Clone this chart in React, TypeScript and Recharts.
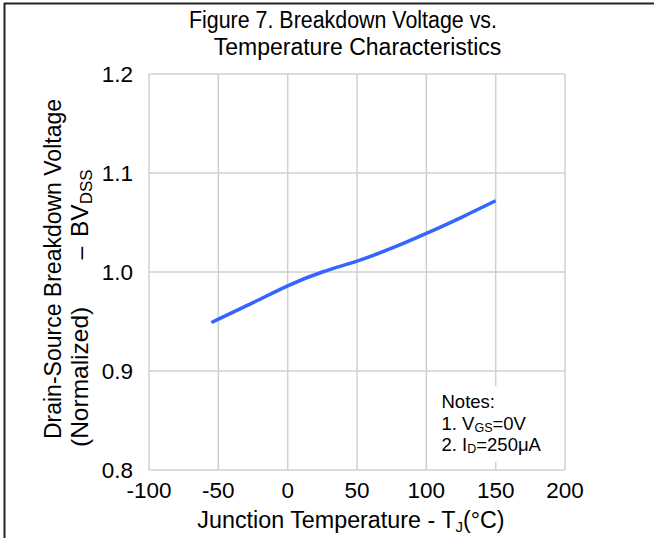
import { LineChart, Line, XAxis, YAxis, CartesianGrid } from 'recharts';

// junction temperature (°C) and normalized BVdss
const temps = [-55, -25, 0, 25, 50, 75, 100, 125, 150];
const bvdss = [0.949, 0.969, 0.986, 1.0, 1.011, 1.024, 1.039, 1.055, 1.072];
const xTicks = [-100, -50, 0, 50, 100, 150, 200];
const yTicks = [0.8, 0.9, 1.0, 1.1, 1.2];

const data = temps.map((t, i) => ({ t, v: bvdss[i] }));

const font = '"Liberation Sans", Arial, sans-serif';

export default function App() {
  return (
    <div style={{ position: 'absolute', left: 0, top: 0, width: 654, height: 538, background: '#fff', fontFamily: font }}>
      <LineChart width={654} height={538} data={data} margin={{ top: 74, right: 89, bottom: 0, left: 0 }}>
        <CartesianGrid stroke="#d0d0d0" strokeWidth={1.5} />
        <XAxis
          dataKey="t"
          type="number"
          domain={[-100, 200]}
          ticks={xTicks}
          height={68}
          axisLine={false}
          tickLine={false}
          tickSize={0}
          tickMargin={12}
          tick={{ fill: '#000', fontSize: 22.5, fontFamily: font }}
          interval={0}
        />
        <YAxis
          type="number"
          domain={[0.8, 1.2]}
          ticks={yTicks}
          width={149}
          axisLine={false}
          tickLine={false}
          tickSize={0}
          tickMargin={16}
          tick={{ fill: '#000', fontSize: 22.5, fontFamily: font }}
          tickFormatter={(v: number) => v.toFixed(1)}
          interval={0}
        />
        <Line
          type="natural"
          dataKey="v"
          stroke="#3366ff"
          strokeWidth={3.5}
          dot={false}
          isAnimationActive={false}
        />
      </LineChart>
      <svg width={654} height={538} style={{ position: 'absolute', left: 0, top: 0, pointerEvents: 'none' }} fontFamily={font}>
        <line x1={4} y1={3.5} x2={654} y2={3.5} stroke="#222" strokeWidth={2} />
        <line x1={4.5} y1={3} x2={4.5} y2={538} stroke="#222" strokeWidth={2} />
        <text x={189} y={28} fontSize={23} textLength={308} lengthAdjust="spacingAndGlyphs">Figure 7. Breakdown Voltage vs.</text>
        <text x={357.5} y={55} textAnchor="middle" fontSize={23}>Temperature Characteristics</text>
        <text x={351} y={528} textAnchor="middle" fontSize={23.3}>
          Junction Temperature - T<tspan fontSize={15} dy={4}>J</tspan><tspan dy={-4}>(°C)</tspan>
        </text>
        <text transform="rotate(-90)" x={-269} y={61} textAnchor="middle" fontSize={23}>Drain-Source Breakdown Voltage</text>
        <text transform="rotate(-90)" x={-447} y={88} fontSize={24.5}>(Normalized)</text>
        <text transform="rotate(-90)" x={-253} y={88} textAnchor="middle" fontSize={23}>–</text>
        <text transform="rotate(-90)" x={-237} y={88} fontSize={24.5}>
          BV<tspan fontSize={17} dy={4}>DSS</tspan>
        </text>
        <rect x={432} y={386} width={128} height={76} fill="#fff" />
        <text x={441.5} y={408} fontSize={18.5}>Notes:</text>
        <text x={441.5} y={430} fontSize={18.5}>
          1. V<tspan fontSize={12.5} dy={2}>GS</tspan><tspan dy={-2}>=0V</tspan>
        </text>
        <text x={441.5} y={451} fontSize={18.5}>
          2. I<tspan fontSize={12.5} dy={2}>D</tspan><tspan dy={-2}>=250μA</tspan>
        </text>
      </svg>
    </div>
  );
}
